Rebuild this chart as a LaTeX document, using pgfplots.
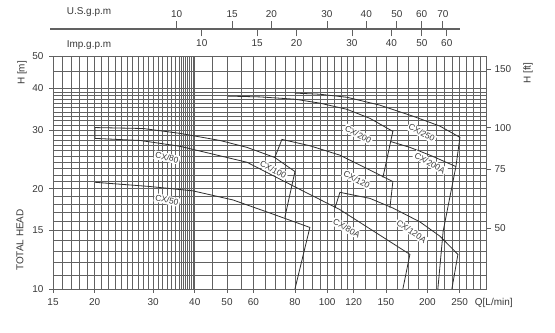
\documentclass[border=0pt]{standalone}
\usepackage{pgfplots}
\pgfplotsset{compat=1.18}
\usepackage{fontspec}
\setmainfont{Liberation Sans}
\definecolor{gridc}{gray}{0.38}
\definecolor{curvec}{gray}{0.18}
\definecolor{txtc}{gray}{0.22}
\tikzset{
  lbl/.style={font=\fontsize{8.5}{10}\selectfont, text=txtc, fill=white, inner sep=1.2bp},
  desc/.style={font=\fontsize{10}{12}\selectfont, text=txtc},
}
\begin{document}
\begin{tikzpicture}
\useasboundingbox (-53bp,-44bp) rectangle (502bp,289bp);
\begin{axis}[
  at={(0,0)}, anchor=south west,
  scale only axis, width=433bp, height=233bp,
  xmode=log, ymode=log,
  xmin=15, xmax=300, ymin=10, ymax=50,
  xtick={15,20,30,40,50,60,80,100,120,150,200,250},
  xticklabels={15,20,30,40,50,60,80,100,120,150,200,250},
  ytick={10,15,20,30,40,50},
  yticklabels={10,15,20,30,40,50},
  minor xtick={16,17,18,19,21,22,23,24,25,26,27,28,29,31,32,33,34,35,36,36.5,37,37.5,38,38.5,39,39.5,45,55,65,70,75,85,90,95,105,110,115,130,140,162.5,175,187.5,212.5,225,237.5,262.5,275,287.5},
  minor ytick={11,12,13,14,16,17,18,19,21,22,23,24,25,26,27,28,29,31,32,33,34,35,36,37,38,39,45},
  grid=both,
  major grid style={gridc, line width=0.6bp},
  minor grid style={gridc, line width=0.55bp},
  axis line style={gridc, line width=0.7bp},
  tick style={gridc, line width=0.6bp},
  tick align=outside,
  major tick length=4bp, minor tick length=0pt,
  xtick pos=bottom, ytick pos=left,
  ticklabel style={font=\fontsize{10}{12}\selectfont, text=txtc},
  xticklabel style={yshift=-2bp},
  yticklabel style={xshift=-2bp},
  clip=false,
  cv/.style={curvec, line width=0.8bp, no marks},
]
% CX/100 (upper left)
\addplot[cv] coordinates {(20.06,28.3) (20.06,30.5) (28.0,30.3) (36.1,29.3) (47.6,27.9) (57.4,26.6) (69.6,24.8) (80.0,22.5) (74.6,16.4)};
% CX/80
\addplot[cv] coordinates {(20.06,28.3) (27.4,27.9) (36.1,26.8) (57.4,24.0) (82.8,19.9) (109.2,17.3) (144,14.5) (177.2,12.7) (168.8,10)};
% CX/50
\addplot[cv] coordinates {(20.06,20.9) (29.3,20.3) (39.5,19.7) (52.1,18.5) (67.3,16.9) (88.7,15.3) (80.0,10)};
% CX/120
\addplot[cv] coordinates {(69.6,24.8) (73.1,28.1) (88.7,26.9) (109.2,25.2) (137.2,22.5) (157.5,21.0) (154.3,17.5)};
% CX/120A
\addplot[cv] coordinates {(105.5,17.5) (109.2,19.5) (134.4,18.7) (157.5,17.5) (189.9,15.9) (218.2,14.4) (247,12.7) (236.9,10)};
% CX/200
\addplot[cv] coordinates {(50.3,37.9) (62.8,37.7) (80.0,37.1) (95.1,36.1) (114.6,34.6) (134.4,32.5) (157.5,29.7) (147,21.6)};
% CX/250
\addplot[cv] coordinates {(80.0,38.7) (95.1,38.4) (114.6,37.6) (144,35.6) (180.9,33.0) (218.2,30.8) (250.5,28.5) (243.6,23.3) (223,14.9) (215,10)};
% CX/200A
\addplot[cv] coordinates {(155.0,27.7) (177.2,26.6) (203.6,25.2) (243.6,23.3)};

\node[lbl, rotate=-13] at (axis cs:33.0,18.5) {CX/50};
\node[lbl, rotate=-13] at (axis cs:33.0,24.8) {CX/80};
\node[lbl, rotate=-28] at (axis cs:68.8,22.8) {CX/100};
\node[lbl, rotate=-29] at (axis cs:114.4,15.2) {CX/80A};
\node[lbl, rotate=-28] at (axis cs:122.6,21.3) {CX/120};
\node[lbl, rotate=-35] at (axis cs:179.3,14.9) {CX/120A};
\node[lbl, rotate=-28] at (axis cs:123.9,29.1) {CX/200};
\node[lbl, rotate=-28] at (axis cs:192.2,29.4) {CX/250};
\node[lbl, rotate=-30] at (axis cs:203.6,23.9) {CX/200A};

\node[desc, rotate=90] at (axis description cs:-0.0716,0.927) {H [m]};
\node[desc, rotate=90] at (axis description cs:-0.0762,0.210) {TOTAL HEAD};
\node[desc, rotate=90] at (axis description cs:1.097,0.927) {H [ft]};
\node[desc] at (axis description cs:1.018,-0.060) {Q[L/min]};
\node[desc] at (axis description cs:0.0831,1.189) {U.S.g.p.m};
\node[desc] at (axis description cs:0.0831,1.047) {Imp.g.p.m};
\end{axis}

% right axis in feet
\begin{axis}[
  at={(0,0)}, anchor=south west,
  scale only axis, width=433bp, height=233bp,
  ymode=log, xmin=0, xmax=1, ymin=32.8084, ymax=164.042,
  axis x line=none, axis y line*=right,
  axis line style={-, gridc, line width=0.7bp},
  ytick={50,75,100,150}, yticklabels={50,75,100,150},
  tick style={gridc, line width=0.6bp},
  tick align=outside, major tick length=5bp, minor tick length=0pt,
  ticklabel style={font=\fontsize{10}{12}\selectfont, text=txtc},
]
\end{axis}

% top axis U.S. g.p.m
\begin{axis}[
  at={(-3bp,259.5bp)}, anchor=south west,
  scale only axis, width=410bp, height=1bp,
  xmode=log, xmin=3.959, xmax=79.4, ymin=0, ymax=1,
  axis y line=none, axis x line*=top,
  axis line style={-, gridc, line width=0.8bp},
  xtick={10,15,20,30,40,50,60,70}, xticklabels={10,15,20,30,40,50,60,70},
  tick style={gridc, line width=0.7bp},
  tick align=outside, major tick length=7bp, minor tick length=0pt,
  ticklabel style={font=\fontsize{10}{12}\selectfont, text=txtc},
]
\end{axis}

% top axis Imp. g.p.m
\begin{axis}[
  at={(-3bp,260.5bp)}, anchor=north west,
  scale only axis, width=410bp, height=1bp,
  xmode=log, xmin=3.959, xmax=79.4, ymin=0, ymax=1,
  axis y line=none, axis x line*=bottom,
  axis line style={-, gridc, line width=0.8bp},
  xtick={12.0095,18.014,24.019,36.029,48.038,60.048,72.057}, xticklabels={10,15,20,30,40,50,60},
  tick style={gridc, line width=0.7bp},
  tick align=outside, major tick length=7bp, minor tick length=0pt,
  ticklabel style={font=\fontsize{10}{12}\selectfont, text=txtc},
]
\end{axis}
\end{tikzpicture}
\end{document}
